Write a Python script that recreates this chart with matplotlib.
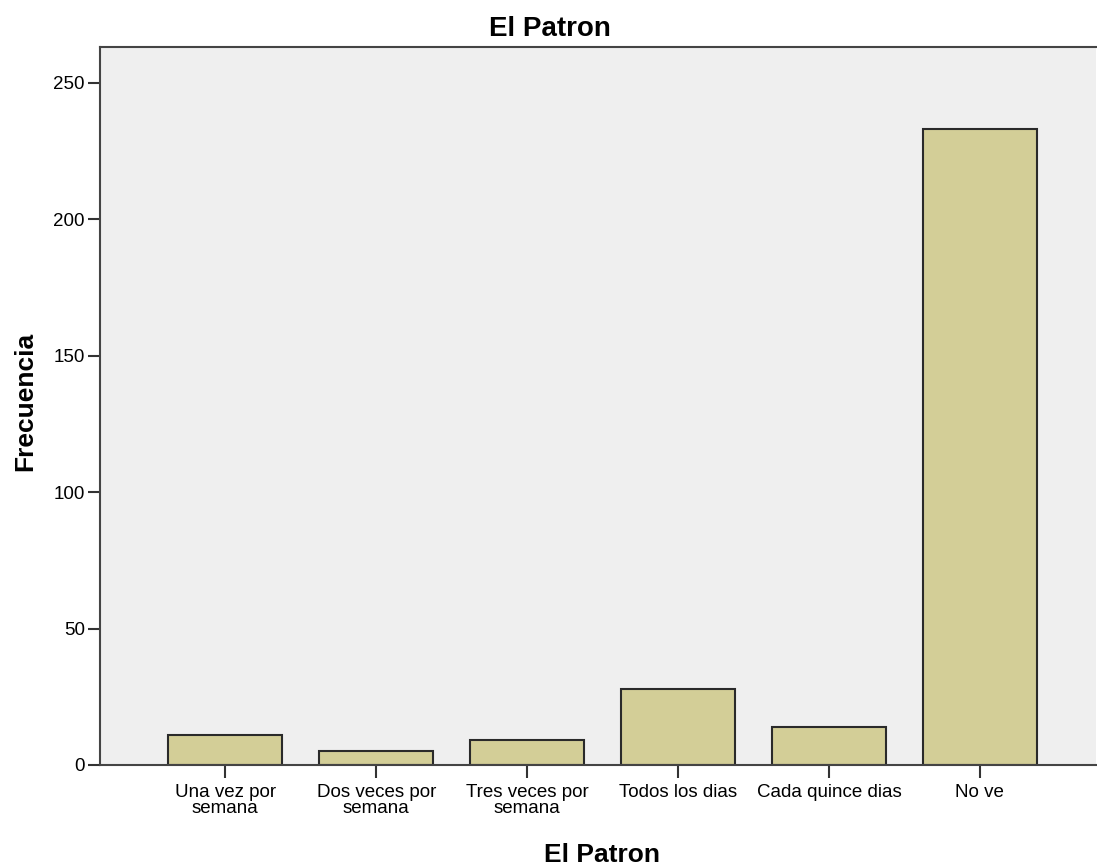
import matplotlib.pyplot as plt

categories = ["Una vez por\nsemana", "Dos veces por\nsemana", "Tres veces por\nsemana",
              "Todos los dias", "Cada quince dias", "No ve"]
counts = [11, 5, 9, 28, 14, 233]
yticks = [0, 50, 100, 150, 200, 250]

plt.rcParams["font.family"] = ["Liberation Sans", "DejaVu Sans"]


def main():
    fig = plt.figure(figsize=(10.97, 8.68), dpi=100)
    ax = fig.add_axes([0.0912, 0.1187, 0.908, 0.8272])
    ax.set_facecolor("#efefef")

    x = list(range(len(categories)))
    ax.bar(x, counts, width=0.755, color="#d3ce97", edgecolor="#2a2a2a", linewidth=1.5, zorder=2)

    ax.set_xlim(-0.83, 5.77)
    ax.set_ylim(0, 263.2)
    ax.set_xticks(x)
    ax.set_xticklabels(categories, fontsize=13.5, linespacing=0.88)
    ax.set_yticks(yticks)
    ax.set_yticklabels([str(v) for v in yticks], fontsize=13.5)
    ax.tick_params(axis="both", direction="out", length=9, width=1.5, color="#333333")
    ax.tick_params(axis="x", pad=5)
    ax.tick_params(axis="y", pad=2)

    for side in ["left", "bottom", "top"]:
        ax.spines[side].set_color("#444444")
        ax.spines[side].set_linewidth(1.5)
    ax.spines["right"].set_visible(False)

    # titles placed like the SPSS output
    fig.text(0.5014, 0.958, "El Patron", fontsize=20, fontweight="bold",
             ha="center", va="baseline")
    fig.text(0.549, 0.0069, "El Patron", fontsize=19, fontweight="bold",
             ha="center", va="baseline")
    fig.text(0.0292, 0.537, "Frecuencia", fontsize=19, fontweight="bold",
             rotation=90, rotation_mode="anchor", ha="center", va="baseline")

    fig.savefig("out.png", dpi=100)


if __name__ == "__main__":
    main()
